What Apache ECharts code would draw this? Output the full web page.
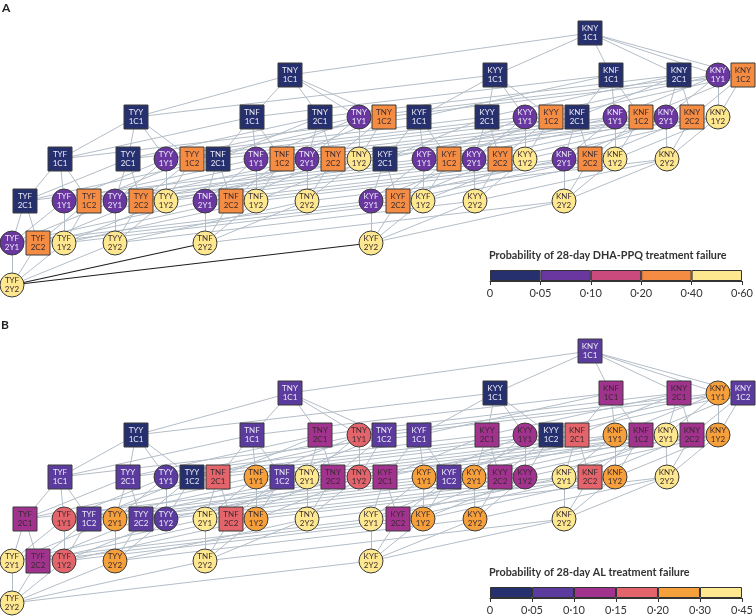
<!DOCTYPE html>
<html><head><meta charset="utf-8">
<script src="https://cdn.jsdelivr.net/npm/echarts@6/dist/echarts.min.js"></script>
<style>html,body{margin:0;padding:0;background:#fff}#c{width:756px;height:616px}</style>
</head><body><div id="c"></div>
<script>
// Genotypes by mutation level (rows of the lattice)
const genotypeRows = [
  ['KNY1C1'],
  ['TNY1C1','KYY1C1','KNF1C1','KNY2C1','KNY1Y1','KNY1C2'],
  ['TYY1C1','TNF1C1','TNY2C1','TNY1Y1','TNY1C2','KYF1C1','KYY2C1','KYY1Y1','KYY1C2','KNF2C1','KNF1Y1','KNF1C2','KNY2Y1','KNY2C2','KNY1Y2'],
  ['TYF1C1','TYY2C1','TYY1Y1','TYY1C2','TNF2C1','TNF1Y1','TNF1C2','TNY2Y1','TNY2C2','TNY1Y2','KYF2C1','KYF1Y1','KYF1C2','KYY2Y1','KYY2C2','KYY1Y2','KNF2Y1','KNF2C2','KNF1Y2','KNY2Y2'],
  ['TYF2C1','TYF1Y1','TYF1C2','TYY2Y1','TYY2C2','TYY1Y2','TNF2Y1','TNF2C2','TNF1Y2','TNY2Y2','KYF2Y1','KYF2C2','KYF1Y2','KYY2Y2','KNF2Y2'],
  ['TYF2Y1','TYF2C2','TYF1Y2','TYY2Y2','TNF2Y2','KYF2Y2'],
  ['TYF2Y2']
];
// Horizontal layout position of each genotype (same order as genotypeRows)
const columnRows = [
  [590],
  [290,495,611,679,718,743],
  [136,252,320,359,384,419,487,525,551,577,615,641,666,692,718],
  [60,128,166,192,218,256,282,307,333,359,385,424,449,474,500,525,564,590,615,667],
  [25,64,89,115,141,166,205,231,256,307,371,398,423,475,564],
  [12,38,64,115,205,371],
  [12]
];
// Estimated probability of 28-day DHA-PPQ treatment failure
const probDHA = [
  [0.03],
  [0.03,0.03,0.03,0.03,0.075,0.3],
  [0.03,0.03,0.03,0.075,0.3,0.03,0.03,0.075,0.3,0.03,0.075,0.3,0.075,0.3,0.5],
  [0.03,0.03,0.075,0.3,0.03,0.075,0.3,0.075,0.3,0.5,0.03,0.075,0.3,0.075,0.3,0.5,0.075,0.3,0.5,0.5],
  [0.03,0.075,0.3,0.075,0.3,0.5,0.075,0.3,0.5,0.5,0.075,0.3,0.5,0.5,0.5],
  [0.075,0.3,0.5,0.5,0.5,0.5],
  [0.5]
];
// Estimated probability of 28-day AL treatment failure
const probAL = [
  [0.075],
  [0.075,0.03,0.125,0.125,0.25,0.075],
  [0.03,0.075,0.125,0.175,0.075,0.075,0.125,0.125,0.03,0.175,0.25,0.125,0.37,0.125,0.25],
  [0.075,0.075,0.075,0.03,0.175,0.25,0.075,0.37,0.125,0.175,0.125,0.25,0.075,0.25,0.125,0.125,0.37,0.175,0.25,0.37],
  [0.125,0.175,0.075,0.25,0.075,0.075,0.37,0.175,0.25,0.37,0.37,0.125,0.25,0.25,0.37],
  [0.37,0.125,0.175,0.25,0.37,0.37],
  [0.37]
];
const thresholdsDHA = [0, 0.05, 0.10, 0.20, 0.40, 0.60];
const ticksDHA = ['0','0·05','0·10','0·20','0·40','0·60'];
const colorsDHA = ['#26306f','#6a37a1','#cb4a7e','#f48d43','#fde88f'];
const thresholdsAL = [0, 0.05, 0.10, 0.15, 0.20, 0.30, 0.45];
const ticksAL = ['0','0·05','0·10','0·15','0·20','0·30','0·45'];
const colorsAL = ['#26306f','#5c3b9f','#a1338f','#e3656b','#f6a03b','#fde88f'];
const highlightedDHA = [['TYF2Y2','TNF2Y2'],['TYF2Y2','KYF2Y2']];
const highlightedAL = [];

function binOf(v, th){ for(let i=0;i<th.length-1;i++){ if(v<th[i+1]) return i; } return th.length-2; }
function hamming1(a,b){ let d=0; for(let i=0;i<a.length;i++) if(a[i]!==b[i]) d++; return d===1; }

function buildGraph(probs, th, colors, highlighted, axisIdx){
  const nodes=[]; const links=[];
  genotypeRows.forEach((row,lv)=>{
    row.forEach((g,i)=>{
      const b = binOf(probs[lv][i], th);
      const isCircle = g[4]==='Y';
      nodes.push({
        name:g, value:[columnRows[lv][i], lv],
        symbol: isCircle ? 'circle' : 'rect',
        symbolSize: 24,
        itemStyle:{color:colors[b], borderColor:'#3a3a3a', borderWidth:1},
        label:{color: b<=1 ? '#ecebf6' : '#3a2a30'}
      });
    });
  });
  const isHi=(a,b)=>highlighted.some(h=>(h[0]===a&&h[1]===b)||(h[0]===b&&h[1]===a));
  const hiLinks=[];
  for(let lv=0;lv<genotypeRows.length-1;lv++){
    genotypeRows[lv].forEach(a=>{
      genotypeRows[lv+1].forEach(b=>{
        if(hamming1(a,b)){
          if(isHi(a,b)) hiLinks.push({source:a,target:b,lineStyle:{color:'#1e1e1e',width:1.2,opacity:1}});
          else links.push({source:a,target:b});
        }
      });
    });
  }
  return {
    type:'graph', coordinateSystem:'cartesian2d', layout:'none',
    xAxisIndex:axisIdx, yAxisIndex:axisIdx,
    data:nodes, links:links.concat(hiLinks),
    lineStyle:{color:'#b3bdc7', width:1, opacity:1, curveness:0},
    label:{show:true, position:'inside', fontFamily:'Lato', fontSize:8, lineHeight:9,
      formatter:p=>p.name.slice(0,3)+'\n'+p.name.slice(3)},
    emphasis:{disabled:true}, silent:true, animation:false, roam:false
  };
}

function legendBars(colors, idx){
  return colors.map(c=>({
    type:'bar', stack:'lg'+idx, xAxisIndex:idx, yAxisIndex:idx, data:[1], barWidth:11,
    itemStyle:{color:c, borderColor:'#333', borderWidth:1}, silent:true, animation:false
  }));
}
function legendX(ticks, idx){
  return {gridIndex:idx, type:'value', min:0, max:ticks.length-1, interval:1,
    axisLine:{show:true, lineStyle:{color:'#333'}},
    axisTick:{show:true, length:4, lineStyle:{color:'#333'}},
    splitLine:{show:false},
    axisLabel:{formatter:v=>ticks[v], fontFamily:'Lato', fontSize:11, color:'#333', margin:7}};
}

const chart = echarts.init(document.getElementById('c'), null, {renderer:'canvas'});
chart.setOption({
  animation:false,
  title:[
    {text:'A', left:2, top:2, padding:0, textStyle:{fontFamily:'Lato', fontSize:12, fontWeight:'bold', color:'#222'}},
    {text:'B', left:1, top:319, padding:0, textStyle:{fontFamily:'Lato', fontSize:12, fontWeight:'bold', color:'#222'}},
    {text:'Probability of 28-day DHA-PPQ treatment failure', left:489, top:250, padding:0, textStyle:{fontFamily:'Lato', fontSize:10.8, fontWeight:'bold', color:'#333'}},
    {text:'Probability of 28-day AL treatment failure', left:489, top:567, padding:0, textStyle:{fontFamily:'Lato', fontSize:10.8, fontWeight:'bold', color:'#333'}}
  ],
  grid:[
    {left:0, width:756, top:33, height:252},
    {left:0, width:756, top:351, height:252},
    {left:490, width:257, top:270, height:11},
    {left:490, width:257, top:587, height:11}
  ],
  xAxis:[
    {gridIndex:0, type:'value', min:0, max:756, show:false},
    {gridIndex:1, type:'value', min:0, max:756, show:false},
    legendX(ticksDHA,2),
    legendX(ticksAL,3)
  ],
  yAxis:[
    {gridIndex:0, type:'value', min:0, max:6, inverse:true, show:false},
    {gridIndex:1, type:'value', min:0, max:6, inverse:true, show:false},
    {gridIndex:2, type:'category', data:['p'], show:false},
    {gridIndex:3, type:'category', data:['p'], show:false}
  ],
  series:[
    buildGraph(probDHA, thresholdsDHA, colorsDHA, highlightedDHA, 0),
    buildGraph(probAL, thresholdsAL, colorsAL, highlightedAL, 1)
  ].concat(legendBars(colorsDHA,2), legendBars(colorsAL,3))
});
</script></body></html>
